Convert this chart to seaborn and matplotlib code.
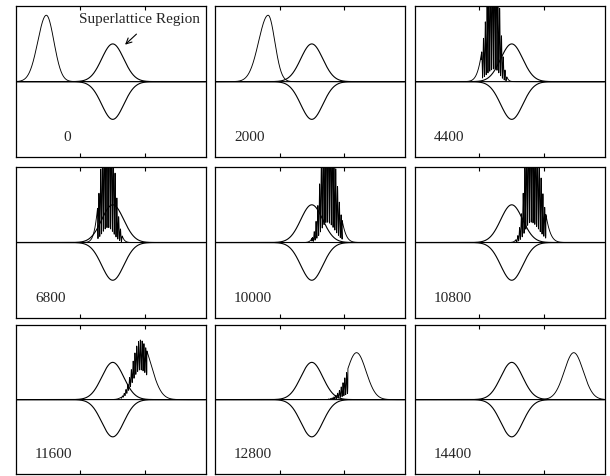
import numpy as np
import pandas as pd
import matplotlib
matplotlib.use("Agg")
import matplotlib.pyplot as plt
import seaborn as sns

# ---- data ----
labels = ["0", "2000", "4400", "6800", "10000", "10800", "11600", "12800", "14400"]
pk_center = [0.16, 0.28, 0.42, 0.485, 0.59, 0.61, 0.655, 0.746, 0.837]
pk_amp = [0.88, 0.88, 1.7, 2.0, 1.8, 1.8, 0.8, 0.63, 0.63]
pk_sig_left = [0.045, 0.05, 0.04, 0.032, 0.03, 0.028, 0.04, 0.05, 0.05]
pk_sig_right = [0.04, 0.035, 0.025, 0.03, 0.042, 0.045, 0.055, 0.05, 0.05]
spike_start = [np.nan, np.nan, 0.35, 0.43, 0.51, 0.53, 0.55, 0.59, np.nan]
spike_end = [np.nan, np.nan, 0.485, 0.56, 0.67, 0.69, 0.69, 0.70, np.nan]
spike_depth = [0.0, 0.0, 0.9, 0.9, 0.85, 0.85, 0.5, 0.8, 0.0]
spike_period = 0.0095

sl_center = 0.51
sl_amp = 0.5
sl_sigma = 0.058
sl_bounds = [0.34, 0.68]

label_x = [0.25, 0.1, 0.1, 0.1, 0.1, 0.1, 0.1, 0.1, 0.1]

# panel geometry (figure fractions)
col_left = [0.0262, 0.3525, 0.6803]
col_width = 0.311
row_bottom = [0.670, 0.332, 0.004]
row_height = [0.317, 0.317, 0.313]

sns.set_style("white")
plt.rcParams["font.family"] = ["Liberation Serif", "DejaVu Serif"]

fig = plt.figure(figsize=(6.1, 4.76), dpi=100)
x = np.linspace(0, 1, 8001)

for i, lab in enumerate(labels):
    r, c = divmod(i, 3)
    ax = fig.add_axes([col_left[c], row_bottom[r], col_width, row_height[r]])
    # superlattice profile (fixed)
    g = sl_amp * np.exp(-(x - sl_center) ** 2 / (2 * sl_sigma ** 2))
    # wave packet
    sig = np.where(x < pk_center[i], pk_sig_left[i], pk_sig_right[i])
    env = pk_amp[i] * np.exp(-(x - pk_center[i]) ** 2 / (2 * sig ** 2))
    y = env.copy()
    if not np.isnan(spike_start[i]):
        m = (x >= spike_start[i]) & (x <= spike_end[i])
        mod = 1 - spike_depth[i] * np.sin(np.pi * x / spike_period) ** 2
        y[m] = env[m] * mod[m]
    df = pd.DataFrame({"x": x, "zero": 0 * x, "sl": g, "neg": -g, "pk": y})
    for col in ["zero", "sl", "neg"]:
        sns.lineplot(data=df, x="x", y=col, ax=ax, color="black", lw=0.8,
                     estimator=None, sort=False)
    sns.lineplot(data=df, x="x", y="pk", ax=ax, color="black", lw=0.65,
                 estimator=None, sort=False)
    ax.set_xlim(0, 1)
    ax.set_ylim(-1, 1)
    ax.set_xlabel("")
    ax.set_ylabel("")
    ax.set_xticks(sl_bounds)
    ax.set_yticks([])
    ax.tick_params(axis="x", direction="in", length=3, width=0.8, top=True,
                   bottom=True, labelbottom=False, labeltop=False, color="black")
    for s in ax.spines.values():
        s.set_color("black")
        s.set_linewidth(0.9)
        s.set_visible(True)
    ax.text(label_x[i], 0.13, lab, transform=ax.transAxes, ha="left",
            va="center", fontsize=11)
    if i == 0:
        ax.text(0.33, 0.91, "Superlattice Region", transform=ax.transAxes,
                ha="left", va="center", fontsize=11)
        ax.annotate("", xy=(0.575, 0.745), xytext=(0.635, 0.815),
                    xycoords="axes fraction", textcoords="axes fraction",
                    arrowprops=dict(arrowstyle="->", color="black", lw=0.8,
                                    shrinkA=0, shrinkB=0))

fig.savefig("out.png", dpi=100)
